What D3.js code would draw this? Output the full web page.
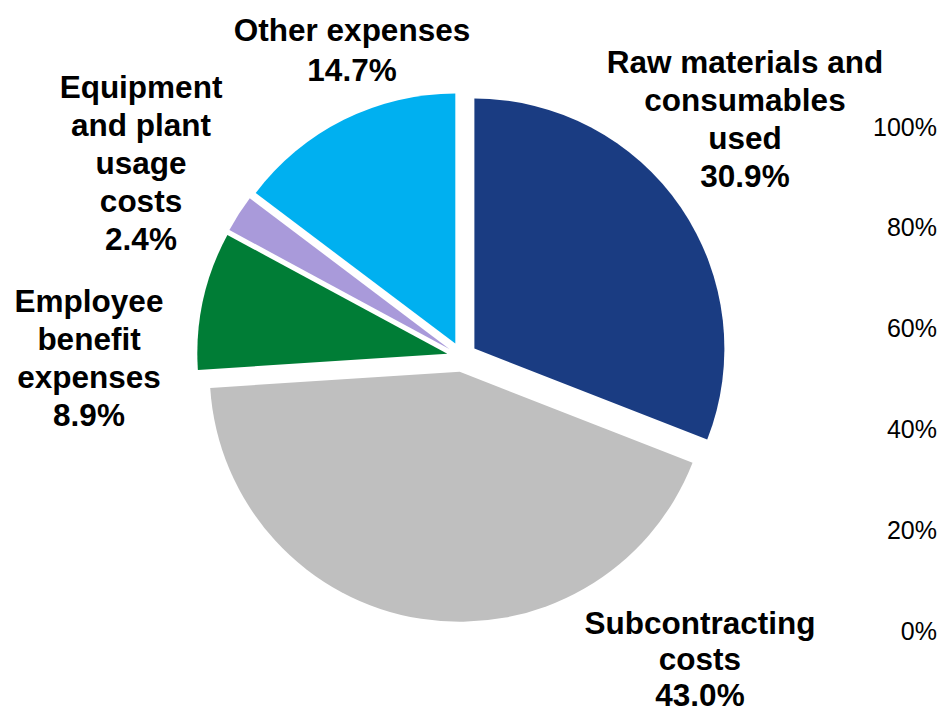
<!DOCTYPE html>
<html>
<head>
<meta charset="utf-8">
<script src="https://cdn.jsdelivr.net/npm/d3@7"></script>
<style>
  html, body { margin: 0; padding: 0; background: #fff; }
  svg { display: block; }
  .lbl { font-family: "Liberation Sans", Arial, sans-serif; font-weight: bold; font-size: 31.5px; fill: #000; }
  .axis text { font-family: "Liberation Sans", Arial, sans-serif; font-size: 25px; fill: #000; }
</style>
</head>
<body>
<script>
// Cost breakdown (share of total expenses)
const categories = [
  "Raw materials and consumables used",
  "Subcontracting costs",
  "Employee benefit expenses",
  "Equipment and plant usage costs",
  "Other expenses"
];
const shares = [30.9, 43.0, 8.9, 2.4, 14.7];
const labelLines = [
  ["Raw materials and", "consumables", "used"],
  ["Subcontracting", "costs"],
  ["Employee", "benefit", "expenses"],
  ["Equipment", "and plant", "usage", "costs"],
  ["Other expenses"]
];
const colors = ["#1A3C82", "#BFBFBF", "#007D36", "#A99ADA", "#00B0F0"];
const axisTicks = [0, 0.2, 0.4, 0.6, 0.8, 1.0];

// Layout
const W = 942, H = 715;
const cx = 462, cy = 357, radius = 250, explode = 15;
// label block centres relative to the pie centre, and line spacing per label
const labelOffsets = [[283, -238], [238, 302], [-373, 1], [-321, -194], [-110, -307]];
const labelLineH = [38, 36, 38, 38, 40];

const svg = d3.select("body").append("svg").attr("width", W).attr("height", H);

const pie = d3.pie().sort(null).value(d => d);
const arcs = pie(shares);
const arc = d3.arc().innerRadius(0).outerRadius(radius);

const g = svg.append("g").attr("transform", `translate(${cx},${cy})`);

g.selectAll("path.slice")
  .data(arcs)
  .join("path")
  .attr("class", "slice")
  .attr("fill", (d, i) => colors[i])
  .attr("d", arc)
  .attr("transform", d => {
    const a = (d.startAngle + d.endAngle) / 2;
    return `translate(${Math.sin(a) * explode},${-Math.cos(a) * explode})`;
  });

// Category + percentage labels
const fmt = d3.format(".1f");
arcs.forEach((d, i) => {
  const lines = labelLines[i].concat([fmt(d.data) + "%"]);
  const [ox, oy] = labelOffsets[i];
  const lh = labelLineH[i];
  const top = oy - (lines.length - 1) * lh / 2;
  const t = g.append("text").attr("class", "lbl").attr("text-anchor", "middle");
  lines.forEach((s, k) => {
    t.append("tspan")
      .attr("x", ox)
      .attr("y", top + k * lh + 11)
      .text(s);
  });
});

// Percentage axis on the right
const y = d3.scaleLinear().domain([0, 1]).range([630, 126]);
const axis = svg.append("g")
  .attr("class", "axis")
  .attr("transform", "translate(937,0)")
  .call(d3.axisRight(y).tickValues(axisTicks).tickFormat(d3.format(".0%")).tickSize(0));
axis.select(".domain").remove();
axis.selectAll("text")
  .attr("x", 0)
  .attr("text-anchor", "end")
  .attr("dy", "0.36em")
  .style("font-family", "'Liberation Sans', Arial, sans-serif")
  .style("font-size", "25px");
</script>
</body>
</html>
